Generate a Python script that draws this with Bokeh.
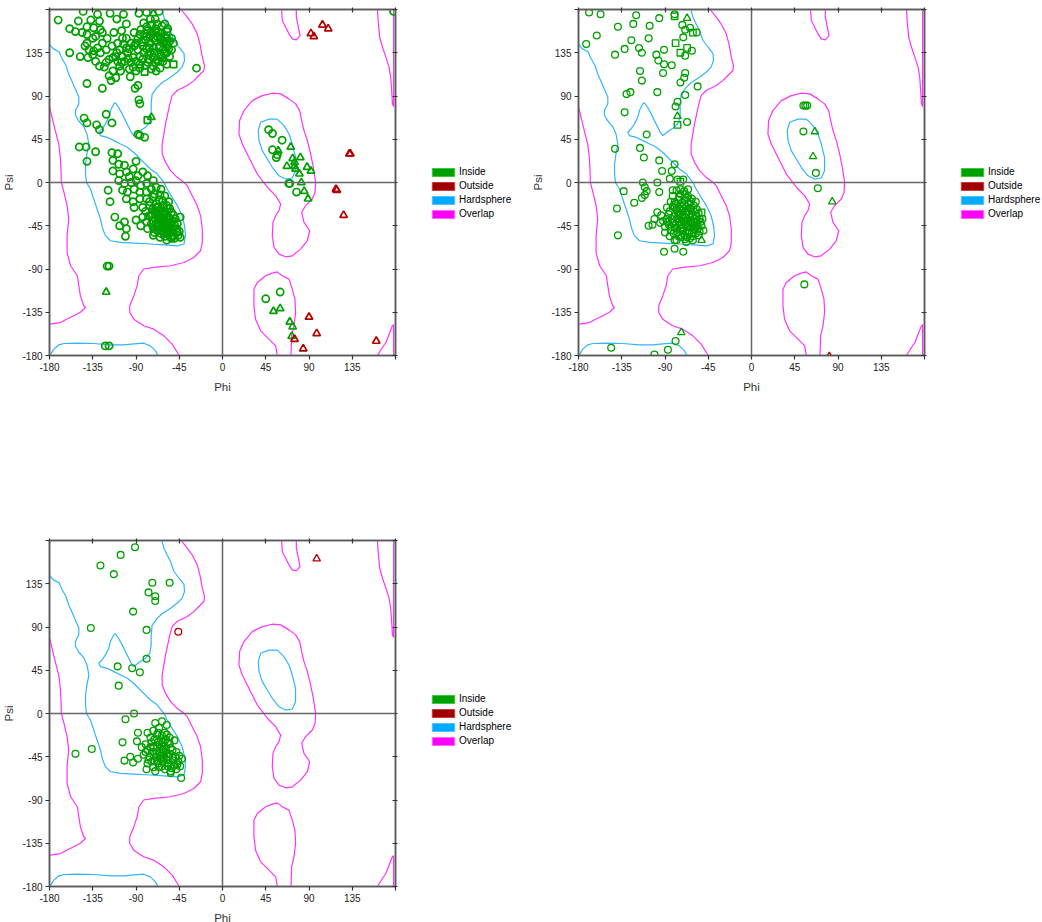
from bokeh.plotting import figure
from bokeh.models import (Range1d, FixedTicker, LinearAxis, Span, Legend,
                          LegendItem, ColumnDataSource)
from bokeh.layouts import row, column
from bokeh.embed import file_html
from bokeh.resources import INLINE

# ---------------- axis ticks ----------------
TICKS = [-180, -135, -90, -45, 0, 45, 90, 135, 180]
TICK_LABELS = {-180: "-180", -135: "-135", -90: "-90", -45: "-45", 0: "0",
               45: "45", 90: "90", 135: "135", 180: ""}

LEGEND_LABELS = ["Inside", "Outside", "Hardsphere", "Overlap"]
LEGEND_FILL = ["#00A000", "#A00000", "#00AAFF", "#FF00FF"]
LEGEND_EDGE = ["#3CC83C", "#C83C3C", "#4CC4FF", "#FF66FF"]

GREEN = "#00A000"
RED = "#B40000"
CYAN = "#33B4FF"
MAGENTA = "#FF33FF"

# ---------------- contour lines (phi, psi) ----------------
HARD_MAIN = [(-180, 144), (-176, 139), (-170, 136), (-167, 129), (-163, 122), (-160, 113), (-156, 104),
             (-153, 97), (-149.5, 89), (-149.5, 82), (-153, 75), (-153, 70), (-149.5, 64), (-144, 57.5),
             (-141, 50.5), (-139, 40), (-141, 30), (-142.5, 19), (-142.5, 9), (-141.5, 0), (-137.4, -6.8),
             (-134, -17), (-130.5, -27.6), (-127, -38), (-125, -47), (-122, -55), (-116.6, -60.6),
             (-106, -62.3), (-92, -63), (-75, -64), (-61, -65), (-47, -66), (-40, -64), (-38.5, -55),
             (-39.5, -45), (-42, -34.6), (-47, -24), (-52.4, -15.5), (-57.6, -6.8), (-61, 0.2), (-68, 9),
             (-75, 14), (-82, 21), (-87, 26), (-92, 31), (-99, 36.6), (-106, 40), (-113, 43.6), (-120, 47),
             (-127, 48.8), (-128.7, 52.3), (-125.3, 55.7), (-121.8, 61), (-118.3, 68), (-116.6, 75),
             (-113, 82), (-111.4, 83), (-108, 78), (-104.4, 71.4), (-101, 64.4), (-97.5, 57.5), (-95, 52.3),
             (-92.3, 48.8), (-85.4, 54), (-80, 57.5), (-75.6, 62.7), (-74.2, 71.4), (-74.2, 82), (-73.2, 92),
             (-68, 99), (-62.7, 104), (-54, 109.5), (-47, 115), (-42, 120), (-39.5, 127), (-40, 134),
             (-45.4, 141), (-50.6, 148), (-54, 158), (-57.6, 165), (-61, 172), (-63, 180)]
HARD_BOTTOM = [(-179, -179.3), (-175.6, -173.4), (-170.4, -169), (-165, -167.5), (-151, -167.2),
               (-134, -167.5), (-116.6, -169), (-102.7, -169), (-92.3, -168), (-82, -167.2), (-75, -170),
               (-69.7, -175.2), (-67.3, -180)]
HARD_LEFT_HANDED = [(57, 66), (48.4, 66), (39.7, 62.7), (37.2, 54), (38, 43.6), (41.4, 33.2), (46.6, 24.5),
                    (51.8, 15.8), (58.8, 7), (65.7, 3.6), (72.6, 4.7), (76, 12.3), (76, 26.2), (72.6, 40),
                    (69.2, 50.5), (64, 59.2), (57, 66)]

OVER_LEFT = [(-180, 79), (-177.4, 68), (-174, 54), (-170.4, 40), (-168.7, 26), (-168, 12), (-167.7, 0),
             (-165, -10), (-161.7, -24), (-160, -38), (-161.7, -55), (-161.7, -73), (-158, -86.6),
             (-151, -97), (-149.5, -107.5), (-147.8, -118), (-144.4, -128.3), (-142.6, -130),
             (-147.8, -135), (-154.8, -138.7), (-161.7, -142), (-168.7, -145.7), (-179, -147.4),
             (-180, -147.5)]
OVER_MID = [(-43, 180), (-36.7, 172), (-31.5, 165), (-26.3, 154.7), (-23.5, 144.3), (-21, 130.4),
            (-18.7, 121.7), (-19.4, 116.5), (-24.6, 111.3), (-29.8, 106), (-36.7, 101), (-47.2, 95.7),
            (-52.4, 90.4), (-54.8, 81.8), (-57, 71.4), (-59.3, 61), (-61, 50.5), (-62.8, 40), (-62.8, 29.7),
            (-59.3, 21), (-54, 12.3), (-47.2, 5.4), (-40.2, 0.2), (-36.7, -3.3), (-31.5, -13.7),
            (-26.3, -24), (-22.8, -34.6), (-21, -48.4), (-21, -62.3), (-22.8, -71), (-29.8, -78),
            (-40.2, -83.2), (-54, -86.6), (-71.5, -88.4), (-82, -90), (-87, -97), (-88.8, -107.5),
            (-92.3, -118), (-96.5, -128.3), (-96.5, -135.2), (-92.3, -142.2), (-82, -149), (-71.5, -152.6),
            (-61, -159.5), (-52.4, -168.2), (-45, -180)]
OVER_TOP = [(61.5, 180), (62.2, 168.6), (65.7, 161.6), (69.2, 154.7), (72.6, 149.5), (76.8, 148.4),
            (80.7, 152.9), (78.9, 161.6), (76.8, 172), (76.8, 180)]
OVER_LEFT_HANDED = [(41.4, 1.9), (36.2, 8.9), (31, 19.3), (25.8, 29.7), (20.6, 40), (17.1, 50.5),
                    (17.8, 64.4), (22.3, 74.8), (31, 85.2), (41.4, 90.4), (51.8, 92.9), (60.5, 92.2),
                    (69.2, 87), (76.1, 81.8), (80.3, 74.8), (82.4, 64.4), (84.8, 54), (88.3, 43.6),
                    (91.7, 29.7), (94.5, 15.8), (96.9, 0.2), (96.3, -10.2), (93.5, -17.2), (86.5, -24),
                    (82.4, -31), (84.8, -41.5), (90.7, -50.2), (88.3, -60.6), (81.3, -69.3), (72.6, -76.3),
                    (65.7, -77.3), (58.8, -74.5), (53.6, -67.5), (51.8, -55.4), (52.5, -41.5), (55.3, -34.6),
                    (58.8, -29.3), (60.5, -22.4), (55.3, -13.7), (48.4, -6.8), (41.4, 1.9)]
OVER_BOTTOM_LOOP = [(57, -180), (55.3, -170), (48.4, -163), (39.7, -154.3), (34.4, -142.2), (32.7, -128.3),
                    (32.7, -111), (36.2, -104), (44.9, -97), (51.8, -94.3), (57, -93), (62.2, -97),
                    (69.2, -100.5), (72.6, -111), (75.4, -121.4), (76.1, -135.2), (74.4, -149),
                    (71.9, -159.5), (71.3, -180)]
OVER_TOP_RIGHT = [(161.2, 180), (162.2, 165), (163.6, 151), (166.4, 141), (170, 130.4), (173.3, 120),
                  (175, 109.5), (176, 95.7), (176.8, 82), (178, 79), (178, 180)]
OVER_BOTTOM_RIGHT = [(161.2, -180), (166.4, -171.7), (170, -166.5), (173.3, -157.8), (176.8, -149),
                     (178, -148), (178, -180)]

HARDSPHERE_LINES = [HARD_MAIN, HARD_BOTTOM, HARD_LEFT_HANDED]
OVERLAP_LINES = [OVER_LEFT, OVER_MID, OVER_TOP, OVER_LEFT_HANDED, OVER_BOTTOM_LOOP,
                 OVER_TOP_RIGHT, OVER_BOTTOM_RIGHT]

# ---------------- panel 1 (top left) ----------------
TL_IN_CIRCLE = [
    (-171, 169), (-159, 160), (-153, 157), (-145, 178), (-130, 175), (-137, 169), (-117, 176), (-103, 175),
    (-87, 176), (-79, 177), (-146, 156), (-141, 162), (-141, 154), (-134, 161), (-132, 152), (-127, 159),
    (-125, 156), (-120, 150), (-113, 156), (-105, 158), (-104, 150), (-109, 145), (-115, 142), (-121, 138),
    (-127, 135), (-134, 137), (-141, 145), (-143, 142), (-139, 138), (-135, 133), (-148, 131), (-159, 135),
    (-132, 126), (-128, 121), (-121, 125), (-114, 130), (-109, 126), (-104, 131), (-99, 135), (-93, 130),
    (-90, 126), (-86, 123), (-83, 128), (-78, 125), (-72, 121), (-67, 126), (-62, 130), (-58, 135),
    (-53, 138), (-51, 145), (-55, 147), (-65, 149), (-72, 150), (-79, 152), (-86, 154), (-92, 156),
    (-85, 159), (-79, 162), (-74, 157), (-69, 156), (-57, 142), (-60, 152), (-58, 147), (-65, 142),
    (-71, 135), (-76, 140), (-83, 142), (-90, 145), (-95, 145), (-100, 140), (-102, 126), (-107, 121),
    (-114, 116), (-118, 111), (-116, 106), (-111, 109), (-106, 116), (-97, 118), (-90, 116), (-86, 119),
    (-74, 118), (-69, 116), (-58, 123), (-65, 119), (-27, 119), (-141, 103), (-125, 98), (-91, 98),
    (-88, 101), (-87, 86), (-86, 82), (-121, 71), (-115, 62), (-144, 67), (-141, 62), (-131, 60),
    (-128, 55), (-88, 50), (-86, 49), (-81, 47), (-149, 37), (-142, 37), (-132, 32), (-141, 22),
    (-75, 145), (-70, 148), (-66, 140), (-62, 145), (-68, 152), (-72, 140), (-64, 155), (-58, 150),
    (-77, 133), (-62, 138), (-80, 148), (-88, 138), (-95, 125), (-100, 150), (-110, 135), (-118, 128),
    (-125, 145), (-130, 140), (-140, 130), (-123, 120), (-96, 110), (-60, 165), (-70, 170), (-66, 178),
    (-75, 170), (-100, 165), (-110, 170), (-150, 168), (-128, 168), (-135, 150),
    (-78, 158), (-76, 152), (-73, 155), (-70, 160), (-67, 157), (-64, 150), (-61, 147), (-58, 144),
    (-56, 139), (-60, 134), (-64, 131), (-68, 128), (-72, 130), (-75, 136), (-79, 139), (-82, 135),
    (-84, 146), (-81, 155), (-77, 128), (-70, 125), (-66, 133), (-62, 126), (-55, 131), (-53, 150),
    (-57, 160), (-63, 163), (-68, 165), (-74, 164), (-82, 166), (-88, 150), (-92, 142), (-97, 139),
    (-103, 144), (-107, 138), (-111, 131), (-105, 125), (-98, 129), (-93, 120), (-86, 131), (-80, 122),
    (-115, 31), (-109, 30), (-114, 23), (-108, 19), (-102, 18), (-90, 22), (-114, 12), (-107, 9),
    (-100, 11), (-97, 6), (-93, 14), (-88, 7), (-83, 11), (-78, 7), (-108, 2), (-102, -1), (-95, 0),
    (-90, 2), (-85, -3), (-79, -1), (-72, 2), (-119, -8), (-104, -8), (-99, -10), (-92, -7), (-86, -10),
    (-79, -10), (-74, -7), (-69, -5), (-64, -7), (-117, -20), (-100, -17), (-93, -20), (-86, -17),
    (-79, -17), (-72, -15), (-65, -13), (-62, -19), (-92, -26), (-83, -26), (-76, -24), (-69, -22),
    (-58, -24), (-112, -36), (-107, -45), (-102, -41), (-100, -48), (-101, -56), (-90, -39), (-85, -45),
    (-83, -36), (-79, -41), (-74, -34), (-69, -31), (-65, -38), (-60, -31), (-55, -27), (-51, -34),
    (-44, -36), (-45, -51), (-44, -57), (-58, -60), (-65, -57), (-72, -55), (-78, -48), (-71, -48),
    (-64, -50), (-57, -51), (-51, -48), (-47, -43), (-62, -43), (-58, -45), (-55, -38), (-67, -45),
    (-72, -40), (-64, -34), (-51, -55), (-47, -52), (-53, -58),
    (-60, -40), (-58, -42), (-62, -44), (-64, -38), (-56, -36), (-66, -42), (-60, -47), (-54, -44),
    (-68, -35), (-63, -30), (-57, -50), (-61, -53), (-65, -48), (-70, -44), (-52, -40), (-59, -33),
    (-67, -26), (-73, -28), (-55, -48), (-63, -37),
    (-70, -30), (-66, -36), (-62, -33), (-58, -38), (-54, -41), (-50, -44), (-48, -48), (-52, -51),
    (-56, -54), (-60, -56), (-64, -53), (-68, -50), (-72, -47), (-74, -43), (-70, -38), (-66, -48),
    (-62, -47), (-58, -53), (-54, -57), (-50, -58), (-46, -55), (-49, -38), (-53, -31), (-57, -27),
    (-61, -24), (-65, -29), (-69, -26), (-73, -33), (-77, -35), (-80, -30), (-76, -20), (-71, -12),
    (-66, -18), (-60, -14), (-56, -20), (-63, -41), (-59, -45), (-55, -46), (-67, -39), (-71, -52),
    (-120, -87), (-118, -87), (-118, -170), (-122, -170), (178, 178),
    (48, 55), (52, 51), (62, 44), (52, 34), (57, 29), (56, 26), (70, -1), (69, -1), (77, -10),
    (45, -121), (60, -114)]
TL_IN_TRIANGLE = [
    (-72, 176), (-74, 68), (-121, -114), (71, 37), (81, 26), (73, 25), (75, 21), (67, 17), (75, 17),
    (76, 14), (80, 9), (88, 16), (92, 12), (82, 0), (85, -9), (89, -17), (58, 33), (53, -134),
    (60, -131), (70, -145), (73, -150), (72, -160)]
TL_IN_SQUARE = [(-58, 157), (-81, 115), (-51, 123), (-78, 65)]
TL_OUT_TRIANGLE = [
    (75, -163), (84, -173), (90, -140), (98, -157), (160, -165), (118, -7), (119, -8), (126, -34),
    (133, 30), (132, 30), (92, 155), (95, 152), (104, 164), (110, 160)]
TL_OUT_CIRCLE = []

# ---------------- panel 2 (top right) ----------------
TR_IN_CIRCLE = [
    (-169, 177), (-157, 175), (-172, 144), (-161, 153), (-139, 162), (-120, 174), (-123, 165), (-96, 171),
    (-106, 163), (-80, 175), (-142, 133), (-132, 139), (-125, 148), (-117, 140), (-114, 135), (-107, 150),
    (-99, 133), (-97, 127), (-91, 138), (-91, 123), (-92, 114), (-83, 122), (-116, 116), (-114, 106),
    (-130, 92), (-126, 94), (-98, 94), (-132, 73), (-109, 50), (-79, 79), (-77, 84), (-69, 91), (-67, 63),
    (-56, 100), (-74, 104), (-70, 109), (-69, 114), (-71, 151), (-72, 164), (-69, 159), (-64, 161),
    (-57, 156), (-62, 137), (-69, 132),
    (-142, 35), (-116, 36), (-112, 26), (-96, 23), (-93, 12), (-80, 19), (-83, 12), (-85, 4), (-98, 0),
    (-113, 0), (-111, -5), (-109, -9), (-133, -9), (-140, -27), (-139, -55), (-122, -21), (-114, -16),
    (-111, -13), (-96, -10), (-77, 3), (-71, 3), (-82, -8), (-74, -7), (-66, -7), (-107, -45),
    (-103, -44), (-101, -38), (-98, -31), (-94, -34), (-91, -72), (-80, -69), (-71, -72), (-78, -60),
    (-67, -57), (-61, -60),
    (-80, -20), (-75, -15), (-70, -18), (-65, -22), (-72, -25), (-78, -28), (-85, -30), (-88, -38),
    (-82, -42), (-76, -38), (-70, -40), (-64, -36), (-60, -30), (-58, -42), (-66, -46), (-72, -50),
    (-78, -48), (-84, -50), (-62, -52), (-56, -48), (-54, -38), (-68, -30), (-74, -32), (-80, -35),
    (-86, -44), (-90, -46), (-92, -40), (-70, -55), (-64, -58), (-76, -56), (-60, -45), (-67, -38),
    (-73, -44), (-79, -22), (-69, -12), (-63, -28), (-57, -35), (-82, -25), (-88, -26), (-66, -42),
    (-71, -34), (-75, -45), (-61, -40), (-85, -56), (-80, -60), (-55, -55), (-52, -45), (-95, -42),
    (-90, -52), (-68, -62),
    (-78, -8), (-74, -12), (-70, -9), (-66, -14), (-62, -17), (-76, -18), (-72, -21), (-68, -25),
    (-64, -27), (-60, -24), (-58, -20), (-82, -14), (-84, -20), (-80, -26), (-77, -30), (-73, -37),
    (-69, -36), (-65, -33), (-61, -35), (-57, -28), (-55, -32), (-53, -41), (-56, -44), (-59, -49),
    (-63, -47), (-67, -51), (-71, -47), (-75, -41), (-79, -44), (-83, -38), (-86, -33), (-84, -46),
    (-81, -53), (-77, -52), (-73, -57), (-69, -59), (-65, -53), (-61, -56), (-58, -53), (-54, -51),
    (-51, -38), (-50, -50), (-72, -29), (-68, -43), (-64, -41), (-60, -38), (-76, -33), (-80, -47),
    (-87, -41), (-63, -20), (-70, -23), (-66, -30), (-62, -44), (-74, -48), (-78, -38), (-56, -40),
    (-67, -16), (-71, -40), (-75, -27), (-58, -46),
    (54, 80), (56, 80), (58, 80), (54, 53), (67, 10), (69, -6), (55, -106),
    (-146, -172), (-87, -174), (-79, -165), (-101, -179)]
TR_IN_TRIANGLE = [(-67, 171), (-77, 69), (-73, -156), (-52, -60), (84, -20), (66, 53), (64, 27)]
TR_IN_SQUARE = [(-79, 145), (-74, 135), (-67, 140), (-61, 156), (-77, 60), (-80, 173), (-52, -31),
                (-74, 1)]
TR_OUT_TRIANGLE = [(81, -181)]
TR_OUT_CIRCLE = []

# ---------------- panel 3 (bottom left) ----------------
BL_IN_CIRCLE = [
    (-91, 173), (-106, 165), (-127, 154), (-113, 145), (-73, 136), (-55, 136), (-77, 126), (-70, 122),
    (-70, 117), (-93, 106), (-137, 89), (-79, 87), (-79, 57), (-109, 49), (-94, 47), (-86, 43),
    (-108, 29), (-92, 0), (-101, -6), (-88, -20), (-104, -30), (-89, -29), (-153, -42), (-136, -37),
    (-102, -49), (-96, -45), (-93, -51), (-88, -47), (-79, -58), (-43, -67), (-54, -62),
    (-70, -10), (-63, -8), (-58, -12), (-66, -15), (-72, -18), (-78, -20), (-75, -25), (-68, -22),
    (-60, -20), (-55, -25), (-50, -28), (-74, -30), (-80, -32), (-84, -35), (-78, -38), (-72, -35),
    (-66, -32), (-60, -34), (-54, -36), (-48, -40), (-45, -44), (-52, -46), (-58, -42), (-64, -44),
    (-70, -42), (-76, -45), (-82, -43), (-74, -50), (-68, -50), (-62, -50), (-56, -52), (-50, -54),
    (-46, -50), (-42, -47), (-66, -56), (-60, -58), (-54, -60), (-72, -56), (-78, -52), (-48, -58),
    (-62, -38), (-68, -40), (-64, -28), (-57, -30), (-80, -40), (-70, -60), (-44, -55), (-58, -48),
    (-65, -47), (-61, -43),
    (-67, -20), (-63, -23), (-59, -27), (-55, -31), (-52, -38), (-49, -45), (-47, -53), (-51, -49),
    (-55, -42), (-59, -38), (-63, -34), (-67, -30), (-71, -27), (-75, -35), (-73, -40), (-69, -45),
    (-65, -41), (-61, -46), (-57, -55), (-53, -57), (-63, -55), (-67, -52), (-71, -49), (-77, -48),
    (-60, -52), (-56, -45), (-64, -47), (-68, -35), (-62, -30), (-58, -22)]
BL_IN_TRIANGLE = []
BL_IN_SQUARE = []
BL_OUT_TRIANGLE = [(98, 161)]
BL_OUT_CIRCLE = [(-46, 85)]


def xs(pairs):
    return [a for a, b in pairs]


def ys(pairs):
    return [b for a, b in pairs]


def make_panel(in_circ, in_tri, in_sq, out_tri, out_circ, bottom_border, lw, csize):
    p = figure(frame_width=346, frame_height=346,
               x_range=Range1d(-180, 180), y_range=Range1d(-180, 180),
               output_backend="svg", toolbar_location=None,
               min_border_left=43, min_border_right=3,
               min_border_top=9, min_border_bottom=bottom_border,
               outline_line_color="#5a5a5a", outline_line_width=1.5,
               background_fill_color="white", border_fill_color="white")
    p.grid.visible = False
    ticker = FixedTicker(ticks=TICKS)
    for ax, lab, stand in ((p.xaxis[0], "Phi", 7), (p.yaxis[0], "Psi", 4)):
        ax.ticker = ticker
        ax.major_label_overrides = TICK_LABELS
        ax.minor_tick_line_color = None
        ax.major_tick_in = 0
        ax.major_tick_out = 4
        ax.major_tick_line_color = "#333333"
        ax.major_tick_line_width = 1.2
        ax.axis_line_color = "#5a5a5a"
        ax.axis_line_width = 1.5
        ax.major_label_text_font = "Liberation Sans"
        ax.major_label_text_font_size = "10px"
        ax.major_label_text_color = "#222222"
        ax.major_label_standoff = 3
        ax.axis_label = lab
        ax.axis_label_text_font = "Liberation Sans"
        ax.axis_label_text_font_size = "11.5px"
        ax.axis_label_text_font_style = "normal"
        ax.axis_label_text_color = "#333333"
        ax.axis_label_standoff = stand
    for side in ("above", "right"):
        ax = LinearAxis(ticker=ticker, major_label_overrides={t: "" for t in TICKS},
                        major_label_standoff=0,
                        minor_tick_line_color=None, major_tick_in=3, major_tick_out=2,
                        major_tick_line_color="#333333", major_tick_line_width=1.2,
                        axis_line_color="#5a5a5a", axis_line_width=1.5)
        p.add_layout(ax, side)

    p.multi_line(xs=[xs(c) for c in HARDSPHERE_LINES], ys=[ys(c) for c in HARDSPHERE_LINES],
                 line_color=CYAN, line_width=1.2)
    p.multi_line(xs=[xs(c) for c in OVERLAP_LINES], ys=[ys(c) for c in OVERLAP_LINES],
                 line_color=MAGENTA, line_width=1.2)
    p.add_layout(Span(location=0, dimension="height", line_color="#666666", line_width=1.5))
    p.add_layout(Span(location=0, dimension="width", line_color="#666666", line_width=1.5))

    def sc(pairs, marker, color, size):
        if pairs:
            p.scatter(x=xs(pairs), y=ys(pairs), marker=marker, size=size, fill_color=None,
                      line_color=color, line_width=lw)
    sc(in_circ, "circle", GREEN, csize)
    sc(in_tri, "triangle", GREEN, 7.5)
    sc(in_sq, "square", GREEN, 6.5)
    sc(out_circ, "circle", RED, csize)
    sc(out_tri, "triangle", RED, 7.5)
    return p


def make_legend(width, height, vy):
    f = figure(width=width, height=height, output_backend="svg", toolbar_location=None,
               x_axis_type=None, y_axis_type=None, min_border=0, outline_line_color=None,
               x_range=Range1d(0, 1), y_range=Range1d(0, 1),
               background_fill_color="white", border_fill_color="white")
    items = []
    for label, fill, edge in zip(LEGEND_LABELS, LEGEND_FILL, LEGEND_EDGE):
        src = ColumnDataSource(data=dict(l=[float("nan")], r=[float("nan")],
                                         t=[float("nan")], b=[float("nan")]))
        r = f.quad(left="l", right="r", top="t", bottom="b", source=src,
                   fill_color=fill, line_color=edge, line_width=1)
        items.append(LegendItem(label=label, renderers=[r]))
    legend = Legend(items=items, location=(31, vy), padding=0, margin=0, spacing=3,
                    glyph_width=28, glyph_height=10, label_height=10, label_width=10,
                    label_standoff=2, border_line_alpha=0, background_fill_alpha=0,
                    label_text_font="Liberation Sans", label_text_font_size="10px",
                    label_text_color="#000000")
    f.add_layout(legend)
    return f


p1 = make_panel(TL_IN_CIRCLE, TL_IN_TRIANGLE, TL_IN_SQUARE, TL_OUT_TRIANGLE, TL_OUT_CIRCLE, 176, 1.7, 7.2)
p2 = make_panel(TR_IN_CIRCLE, TR_IN_TRIANGLE, TR_IN_SQUARE, TR_OUT_TRIANGLE, TR_OUT_CIRCLE, 176, 1.3, 6.8)
p3 = make_panel(BL_IN_CIRCLE, BL_IN_TRIANGLE, BL_IN_SQUARE, BL_OUT_TRIANGLE, BL_OUT_CIRCLE, 36, 1.3, 6.8)

leg1 = make_legend(131, 531, 136)
leg2 = make_legend(114, 531, 136)
leg3 = make_legend(131, 391, 136)

layout = column(row(p1, leg1, p2, leg2), row(p3, leg3))
open("out.html", "w").write(file_html(layout, INLINE))
